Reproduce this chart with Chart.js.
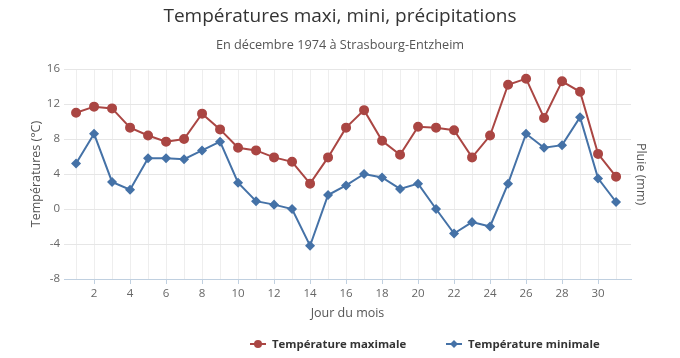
<!DOCTYPE html>
<html><head><meta charset="utf-8">
<script src="https://cdn.jsdelivr.net/npm/chart.js@4"></script>
<style>html,body{margin:0;padding:0;background:#fff}#wrap{width:680px;height:358px}</style>
</head><body><div id="wrap"><canvas id="c" width="680" height="358"></canvas></div>
<script>
const days = [1,2,3,4,5,6,7,8,9,10,11,12,13,14,15,16,17,18,19,20,21,22,23,24,25,26,27,28,29,30,31];
const tempMax = [11.0,11.7,11.5,9.3,8.4,7.7,8.0,10.9,9.1,7.0,6.7,5.9,5.4,2.9,5.9,9.3,11.3,7.8,6.2,9.4,9.3,9.0,5.9,8.4,14.2,14.9,10.4,14.6,13.4,6.3,3.7];
const tempMin = [5.2,8.6,3.1,2.2,5.8,5.8,5.7,6.7,7.7,3.0,0.9,0.5,0.0,-4.2,1.6,2.7,4.0,3.6,2.3,2.9,0.0,-2.8,-1.5,-2.0,2.9,8.6,7.0,7.3,10.5,3.5,0.8];
const yTicks = [-8,-4,0,4,8,12,16];
const seriesNames = ['Température maximale','Température minimale'];
const FONT = '"Open Sans", "DejaVu Sans", sans-serif';

const legendPlugin = {
  id: 'customLegend',
  afterDraw(chart) {
    const ctx = chart.ctx;
    const items = [
      {x: 250, ds: chart.data.datasets[0], style: 'circle'},
      {x: 446, ds: chart.data.datasets[1], style: 'diamond'}
    ];
    const y = 344;
    ctx.save();
    items.forEach(it => {
      ctx.strokeStyle = it.ds.borderColor;
      ctx.fillStyle = it.ds.borderColor;
      ctx.lineWidth = 2;
      ctx.beginPath(); ctx.moveTo(it.x, y); ctx.lineTo(it.x + 16, y); ctx.stroke();
      ctx.beginPath();
      if (it.style === 'circle') { ctx.arc(it.x + 8, y, 4, 0, Math.PI * 2); }
      else { ctx.moveTo(it.x + 8, y - 4); ctx.lineTo(it.x + 12, y); ctx.lineTo(it.x + 8, y + 4); ctx.lineTo(it.x + 4, y); ctx.closePath(); }
      ctx.fill();
      ctx.fillStyle = '#333';
      ctx.font = 'bold 11.4px ' + FONT;
      ctx.textBaseline = 'middle';
      ctx.textAlign = 'left';
      ctx.fillText(it.ds.label, it.x + 22, y + 1);
    });
    ctx.restore();
  }
};

new Chart(document.getElementById('c'), {
  type: 'line',
  data: {
    datasets: [
      {label: seriesNames[0], data: days.map((d,i)=>({x:d,y:tempMax[i]})), borderColor:'#AA4643', backgroundColor:'#AA4643', borderWidth:2, pointStyle:'circle', pointRadius:4, pointHoverRadius:4, tension:0, yAxisID:'y'},
      {label: seriesNames[1], data: days.map((d,i)=>({x:d,y:tempMin[i]})), borderColor:'#4572A7', backgroundColor:'#4572A7', borderWidth:2, pointStyle:'rectRot', pointRadius:3.6, pointHoverRadius:3.6, tension:0, yAxisID:'y'}
    ]
  },
  options: {
    responsive: false,
    animation: false,
    layout: {padding: {top: 0, bottom: 29, left: 0, right: 0}},
    plugins: {
      legend: {display: false},
      tooltip: {enabled: false},
      title: {display: true, text: 'Températures maxi, mini, précipitations', color: '#333', font: {family: FONT, size: 19, weight: 'normal'}, padding: {top: 5, bottom: 5}},
      subtitle: {display: true, text: 'En décembre 1974 à Strasbourg-Entzheim', color: '#555', font: {family: FONT, size: 12.7, weight: 'normal'}, padding: {top: 5, bottom: 16}}
    },
    scales: {
      x: {
        type: 'linear', min: 0.33, max: 31.83,
        afterBuildTicks(s) { s.ticks = days.map(v => ({value: v})); },
        afterFit(s) { s.height = 50; },
        grid: {color: '#eeeeee', drawTicks: true, tickLength: 5, tickColor: ctx => (ctx.tick && ctx.tick.value % 2 === 0 ? '#C0D0E0' : 'rgba(0,0,0,0)')},
        border: {color: '#C0D0E0', width: 1},
        ticks: {autoSkip: false, maxRotation: 0, padding: 3, color: '#666', font: {family: FONT, size: 11.5}, callback: v => (v % 2 === 0 ? String(v) : '')},
        title: {display: true, text: 'Jour du mois', color: '#555', font: {family: FONT, size: 12.5}, padding: {top: 0, bottom: 8}}
      },
      y: {
        position: 'left', min: -8, max: 16,
        afterBuildTicks(s) { s.ticks = yTicks.map(v => ({value: v})); },
        afterFit(s) { s.width = 64; },
        grid: {color: '#e6e6e6', drawTicks: false},
        border: {display: false},
        ticks: {padding: 4, color: '#666', font: {family: FONT, size: 11.5}},
        title: {display: true, text: 'Températures (°C)', color: '#555', font: {family: FONT, size: 12.5}, padding: {top: 29, bottom: 0}}
      },
      y1: {
        position: 'right', min: 0, max: 1,
        afterFit(s) { s.width = 49; },
        grid: {display: false, drawTicks: false},
        border: {display: false},
        ticks: {display: false},
        title: {display: true, text: 'Pluie (mm)', color: '#555', font: {family: FONT, size: 12.5}, padding: {top: 32, bottom: 0}}
      }
    }
  },
  plugins: [legendPlugin]
});
</script>
</body></html>
